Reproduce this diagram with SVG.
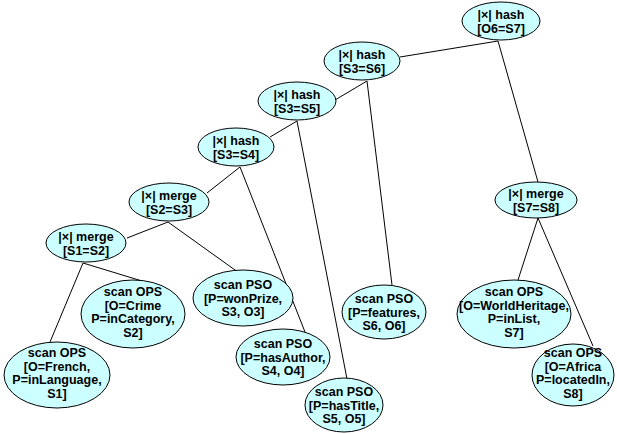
<svg xmlns="http://www.w3.org/2000/svg" width="617" height="435" viewBox="0 0 617 435">
<style>
.n ellipse{fill:#CCFFFF;stroke:#000;stroke-width:1}
.n text{font-family:"Liberation Sans",Arial,sans-serif;font-weight:bold;font-size:12.5px;fill:#000;text-anchor:middle}
.c line{stroke:#000;stroke-width:1}
</style>
<rect width="617" height="435" fill="#fff"/>
<g class="c" id="connectors">
<line x1="400" y1="57" x2="498" y2="41"/>
<line x1="498" y1="41" x2="538" y2="182"/>
<line x1="335" y1="100" x2="367" y2="81"/>
<line x1="367" y1="81" x2="392" y2="285"/>
<line x1="270" y1="137" x2="297" y2="121"/>
<line x1="297" y1="121" x2="347" y2="379"/>
<line x1="207" y1="193" x2="240" y2="167"/>
<line x1="240" y1="167" x2="305" y2="332"/>
<line x1="127" y1="238" x2="168" y2="222"/>
<line x1="168" y1="222" x2="242" y2="275"/>
<line x1="83" y1="263" x2="142" y2="281"/>
<line x1="83" y1="263" x2="50" y2="342"/>
<line x1="538" y1="218" x2="518" y2="280"/>
<line x1="538" y1="218" x2="593" y2="346"/>
</g>
<g class="n" id="n_o6s7"><ellipse cx="501" cy="21" rx="39" ry="19"/><text x="501" y="19">|×| hash</text><text x="501" y="32.5">[O6=S7]</text></g>
<g class="n" id="n_s3s6"><ellipse cx="362" cy="61" rx="38" ry="19"/><text x="362" y="59">|×| hash</text><text x="362" y="72.5">[S3=S6]</text></g>
<g class="n" id="n_s3s5"><ellipse cx="297" cy="101" rx="39" ry="19"/><text x="297" y="99">|×| hash</text><text x="297" y="112.5">[S3=S5]</text></g>
<g class="n" id="n_s3s4"><ellipse cx="236" cy="147" rx="38" ry="19"/><text x="236" y="145">|×| hash</text><text x="236" y="158.5">[S3=S4]</text></g>
<g class="n" id="n_s2s3"><ellipse cx="169" cy="202" rx="40" ry="19"/><text x="169" y="200">|×| merge</text><text x="169" y="213.5">[S2=S3]</text></g>
<g class="n" id="n_s1s2"><ellipse cx="86" cy="243" rx="40" ry="19"/><text x="86" y="241">|×| merge</text><text x="86" y="254.5">[S1=S2]</text></g>
<g class="n" id="n_crime"><ellipse cx="133" cy="314" rx="52" ry="34"/><text x="133" y="296">scan OPS</text><text x="133" y="309.5">[O=Crime</text><text x="133" y="323">P=inCategory,</text><text x="133" y="336.5">S2]</text></g>
<g class="n" id="n_french"><ellipse cx="57" cy="375" rx="53" ry="33"/><text x="57" y="357">scan OPS</text><text x="57" y="370.5">[O=French,</text><text x="57" y="384">P=inLanguage,</text><text x="57" y="397.5">S1]</text></g>
<g class="n" id="n_wonprize"><ellipse cx="243" cy="298" rx="50" ry="28"/><text x="243" y="289">scan PSO</text><text x="243" y="302.5">[P=wonPrize,</text><text x="243" y="316">S3, O3]</text></g>
<g class="n" id="n_hasauthor"><ellipse cx="283" cy="357" rx="47" ry="28"/><text x="283" y="348">scan PSO</text><text x="283" y="361.5">[P=hasAuthor,</text><text x="283" y="375">S4, O4]</text></g>
<g class="n" id="n_hastitle"><ellipse cx="344" cy="405" rx="39" ry="27"/><text x="344" y="396">scan PSO</text><text x="344" y="409.5">[P=hasTitle,</text><text x="344" y="423">S5, O5]</text></g>
<g class="n" id="n_features"><ellipse cx="384" cy="312" rx="42" ry="27"/><text x="384" y="303">scan PSO</text><text x="384" y="316.5">[P=features,</text><text x="384" y="330">S6, O6]</text></g>
<g class="n" id="n_s7s8"><ellipse cx="536" cy="200" rx="41" ry="18"/><text x="536" y="198">|×| merge</text><text x="536" y="211.5">[S7=S8]</text></g>
<g class="n" id="n_worldheritage"><ellipse cx="514" cy="314" rx="57" ry="34"/><text x="514" y="296">scan OPS</text><text x="514" y="309.5">[O=WorldHeritage,</text><text x="514" y="323">P=inList,</text><text x="514" y="336.5">S7]</text></g>
<g class="n" id="n_africa"><ellipse cx="573" cy="375" rx="41" ry="31"/><text x="573" y="357">scan OPS</text><text x="573" y="370.5">[O=Africa</text><text x="573" y="384">P=locatedIn,</text><text x="573" y="397.5">S8]</text></g>
</svg>
